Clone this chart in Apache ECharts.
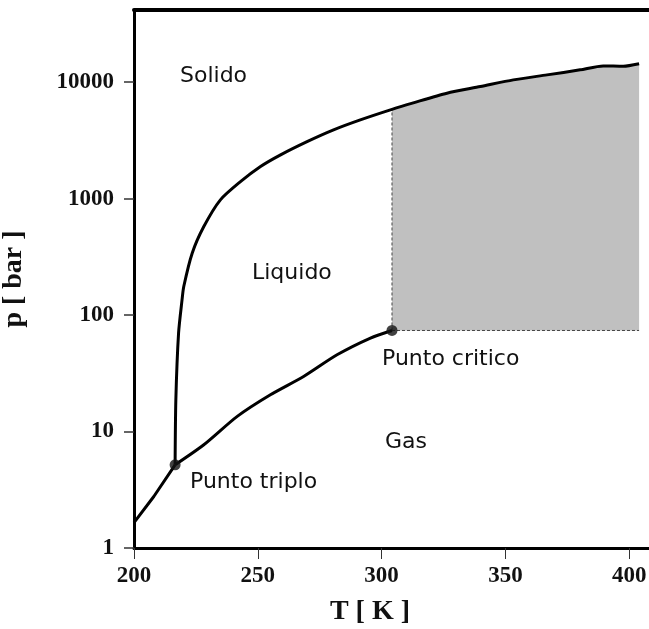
<!DOCTYPE html>
<html>
<head>
<meta charset="utf-8">
<title>Diagramma di fase</title>
<script src="https://cdn.jsdelivr.net/npm/echarts@6.0.0/dist/echarts.min.js"></script>
<style>
html, body { margin: 0; padding: 0; background: #fff; }
#chart { width: 649px; height: 629px; }
</style>
</head>
<body>
<div id="chart"></div>
<script>
// curva di sublimazione (T in K, p in bar)
var sublT = [200, 208, 216.6];
var sublP = [1.65, 2.77, 5.18];

// curva di evaporazione
var vapT = [216.6, 228.2, 241.7, 255.1, 268.5, 282.0, 295.5, 304.2];
var vapP = [5.18, 7.7, 13.5, 20.7, 29.7, 45.6, 63.5, 73.8];

// curva di fusione
var meltT = [216.6, 216.9, 218.0, 219.4, 220.1, 223.5, 228.2, 234.9, 243.0, 251.1, 259.2, 269.9, 280.6, 291.4, 304.2, 312.8, 326.4, 339.9, 353.2, 366.8, 380.2, 389.5, 397.6, 404];
var meltP = [5.18, 18.7, 70, 135, 176, 340, 576, 977, 1400, 1890, 2380, 3090, 3900, 4750, 5850, 6650, 8050, 9170, 10470, 11560, 12770, 13800, 13700, 14400];

var triple = [216.6, 5.18];
var critical = [304.2, 73.8];
var tEnd = 404;

var xTicks = [200, 250, 300, 350, 400];
var yTicks = [1, 10, 100, 1000, 10000];

function pairs(xs, ys) {
    return xs.map(function (x, i) { return [x, ys[i]]; });
}

var meltData = pairs(meltT, meltP);
var superData = meltData.filter(function (d) { return d[0] >= critical[0]; });
var meltAtCrit = superData[0][1];

var serif = 'Liberation Serif';
var sans = 'DejaVu Sans';

var chart = echarts.init(document.getElementById('chart'));

function label(text, x, y) {
    return {
        type: 'text',
        style: {
            text: text,
            x: x,
            y: y,
            fill: '#111',
            font: '22px "' + sans + '"',
            textVerticalAlign: 'middle'
        }
    };
}

chart.setOption({
    animation: false,
    grid: { left: 134, right: 0, top: 10, bottom: 81, outerBoundsMode: 'none' },
    xAxis: [
        {
            type: 'value',
            min: 200,
            max: 408,
            interval: 50,
            name: 'T [ K ]',
            nameLocation: 'middle',
            nameGap: 50,
            nameTextStyle: {
                fontFamily: serif, fontWeight: 'bold', fontSize: 28, color: '#111',
                padding: [0, 43, 0, 0]
            },
            axisLine: { onZero: false, lineStyle: { color: '#000', width: 3 } },
            axisTick: { length: 11, customValues: xTicks, lineStyle: { color: '#333', width: 1 } },
            axisLabel: {
                customValues: xTicks,
                fontFamily: serif, fontWeight: 'bold', fontSize: 23, color: '#111', margin: 17,
                formatter: function (v) { return xTicks.indexOf(v) >= 0 ? String(v) : ''; }
            },
            splitLine: { show: false }
        },
        {
            // bordo superiore
            type: 'value',
            position: 'top',
            min: 200,
            max: 408,
            axisLine: { onZero: false, lineStyle: { color: '#000', width: 4 } },
            axisTick: { show: false },
            axisLabel: { show: false },
            splitLine: { show: false }
        }
    ],
    yAxis: {
        type: 'log',
        logBase: 10,
        min: 1,
        max: 41700,
        name: 'p [ bar ]',
        nameLocation: 'middle',
        nameGap: 106,
        nameTextStyle: { fontFamily: serif, fontWeight: 'bold', fontSize: 28, color: '#111' },
        axisLine: { onZero: false, lineStyle: { color: '#000', width: 3 } },
        axisTick: { length: 10, customValues: yTicks, lineStyle: { color: '#333', width: 1.5 } },
        axisLabel: {
            customValues: yTicks,
            fontFamily: serif, fontWeight: 'bold', fontSize: 23, color: '#111', margin: 20,
            formatter: function (v) {
                var l = Math.log10(v);
                return Math.abs(l - Math.round(l)) < 1e-6 ? String(Math.round(v)) : '';
            }
        },
        splitLine: { show: false }
    },
    series: [
        {
            // fluido supercritico
            type: 'line',
            data: superData,
            symbol: 'none',
            smooth: 0.25,
            lineStyle: { width: 0 },
            areaStyle: { color: '#c0c0c0', opacity: 1, origin: critical[1] },
            z: 1
        },
        {
            type: 'line',
            data: [critical, [critical[0], meltAtCrit]],
            symbol: 'none',
            lineStyle: { color: '#444', width: 1, type: [3, 2] },
            z: 2
        },
        {
            type: 'line',
            data: [critical, [tEnd, critical[1]]],
            symbol: 'none',
            lineStyle: { color: '#444', width: 1, type: [3, 2] },
            z: 2
        },
        {
            type: 'line',
            data: pairs(sublT, sublP),
            symbol: 'none',
            lineStyle: { color: '#000', width: 3 },
            z: 3
        },
        {
            type: 'line',
            data: pairs(vapT, vapP),
            symbol: 'none',
            smooth: 0.25,
            lineStyle: { color: '#000', width: 3, join: 'round' },
            z: 3
        },
        {
            type: 'line',
            data: meltData,
            symbol: 'none',
            smooth: 0.25,
            lineStyle: { color: '#000', width: 3, join: 'round' },
            z: 3
        },
        {
            type: 'scatter',
            data: [triple, critical],
            symbolSize: 11,
            itemStyle: { color: '#111' },
            z: 4
        }
    ],
    graphic: [
        label('Solido', 180, 76),
        label('Liquido', 252, 273),
        label('Fluido', 448, 208),
        label('supercritico', 448, 238),
        label('Punto critico', 382, 359),
        label('Gas', 385, 442),
        label('Punto triplo', 190, 482)
    ]
});
</script>
</body>
</html>
